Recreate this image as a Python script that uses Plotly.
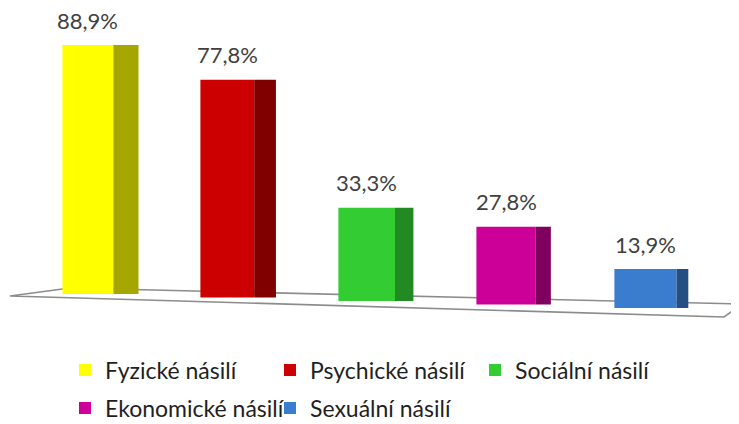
import plotly.graph_objects as go

# ---- data ----
categories = ["Fyzické násilí", "Psychické násilí", "Sociální násilí",
              "Ekonomické násilí", "Sexuální násilí"]
values = [88.9, 77.8, 33.3, 27.8, 13.9]
labels = [f"{v:.1f}".replace(".", ",") + "%" for v in values]

front_colors = ["#FFFF00", "#CC0000", "#33CC33", "#CC0099", "#3A7DCE"]
side_colors = ["#A6A600", "#800000", "#228A22", "#80005F", "#254E82"]

# ---- styling / pseudo-perspective parameters ----
W, H = 739, 424
OFF = 8            # page body margin offset (px) applied by the browser
FONT = "Lato"
n = len(categories)
PX_PER_UNIT = 2.8
ZERO_PX = 294 - OFF                                # pixel row of value 0 for the first bar
floor_drop = 1.25                                  # axis units the floor drops per category
front_w = [0.366 + 0.02 * i for i in range(n)]     # front face widths (category units)
side_w = [0.18 - 0.024 * i for i in range(n)]      # side face widths (category units)
bases = [-floor_drop * i for i in range(n)]

y_max = ZERO_PX / PX_PER_UNIT
y_min = y_max - H / PX_PER_UNIT

fig = go.Figure()
for i, cat in enumerate(categories):
    leg = "legend" if i < 3 else "legend2"
    fig.add_trace(go.Bar(
        x=[cat], y=[values[i]], base=[bases[i]],
        width=[front_w[i]], offset=[-front_w[i] / 2],
        marker=dict(color=front_colors[i], line=dict(width=0)),
        name=cat, legend=leg, showlegend=True,
    ))
    fig.add_trace(go.Bar(
        x=[cat], y=[values[i]], base=[bases[i]],
        width=[side_w[i]], offset=[front_w[i] / 2],
        marker=dict(color=side_colors[i], line=dict(width=0)),
        name=cat, showlegend=False, hoverinfo="skip",
    ))

# value labels
for i, cat in enumerate(categories):
    fig.add_annotation(
        x=cat, y=bases[i] + values[i], text=labels[i],
        showarrow=False, yanchor="middle", yshift=25,
        font=dict(family=FONT, size=22, color="#404040"),
    )

# floor (decorative parallelogram), screen pixel -> paper
def px(x, y):
    return (x - OFF) / W, 1 - (y - OFF) / H

pts = [px(10, 296), px(70, 288), px(742, 304), px(724, 317)]
path = "M " + " L ".join(f"{a:.4f},{b:.4f}" for a, b in pts) + " Z"
fig.add_shape(type="path", path=path, xref="paper", yref="paper",
              line=dict(color="#8C8C8C", width=1.6), fillcolor="white",
              layer="below")

legend_common = dict(
    orientation="h", xanchor="left", yanchor="middle",
    entrywidth=160, entrywidthmode="pixels",
    font=dict(family=FONT, size=23, color="#1F1F1F"),
    bgcolor="rgba(0,0,0,0)", traceorder="normal",
    itemclick=False, itemdoubleclick=False,
)

fig.update_layout(
    width=W, height=H,
    margin=dict(l=0, r=0, t=0, b=0),
    paper_bgcolor="white", plot_bgcolor="white",
    barmode="overlay",
    showlegend=True,
    xaxis=dict(type="category", categoryorder="array", categoryarray=categories,
               range=[-0.5, n - 0.5],
               domain=[(18.2 - OFF) / W, (715.2 - OFF) / W], visible=False),
    yaxis=dict(range=[y_min, y_max], domain=[0, 1], visible=False),
    legend=dict(x=(57) / W, y=1 - (370 - OFF) / H, **legend_common),
    legend2=dict(x=(57) / W, y=1 - (408 - OFF) / H, **legend_common),
)

fig.write_html("out.html")
